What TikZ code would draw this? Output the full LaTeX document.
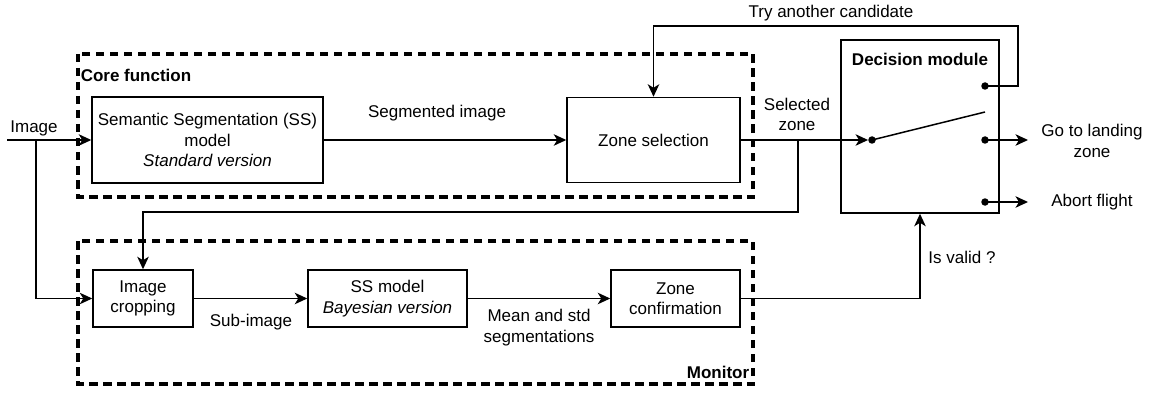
\documentclass[tikz,border=0pt]{standalone}
\usepackage{fontspec}
\setmainfont{Liberation Sans}
\usetikzlibrary{arrows.meta}
\begin{document}
\begin{tikzpicture}[x=1pt,y=-1pt,
  every node/.style={font=\fontsize{17}{20.5}\selectfont, inner sep=0pt},
  box/.style={draw, line width=1.5pt, fill=white, align=center},
  lbl/.style={align=center},
  ttl/.style={font=\fontsize{17}{20.5}\selectfont\bfseries},
  dsh/.style={line width=3.2pt, dash pattern=on 8.5pt off 5.5pt},
  arr/.style={line width=1.5pt, -{Stealth[length=12.5pt,width=11.5pt,inset=3.5pt]}},
  ln/.style={line width=1.5pt},
  dot/.style={circle, fill=black, minimum size=7.5pt, inner sep=0pt}
]
\useasboundingbox[fill=white] (0,0) rectangle (1151,393);

% containers
\draw[dsh] (78,54) rectangle (753,197);
\draw[dsh] (78,241) rectangle (753,384);
\node[ttl] (coreT) at (136,75) {Core function};
\node[ttl] (monT) at (718,372) {Monitor};

% blocks
\node[box, minimum width=231pt, minimum height=86pt] (ss) at (207.5,140) {Semantic Segmentation (SS)\\model\\\textit{Standard version}};
\node[box, minimum width=173pt, minimum height=85pt] (zs) at (653.5,140) {Zone selection};
\node[box, minimum width=158pt, minimum height=173pt] (dm) at (920,126.5) {};
\node[ttl] (dmT) at (920,59) {Decision module};
\node[box, minimum width=100pt, minimum height=57pt] (ic) at (143,298.5) {Image\\cropping};
\node[box, minimum width=159pt, minimum height=57pt] (bay) at (387.5,298.5) {SS model\\\textit{Bayesian version}};
\node[box, minimum width=129pt, minimum height=57pt] (zc) at (675.5,298.5) {Zone\\confirmation};

% dots in decision module
\node[dot] (din) at (872,140) {};
\node[dot] (dtop) at (985,86) {};
\node[dot] (dgo) at (985,140) {};
\node[dot] (dab) at (985,202) {};
\coordinate (dsw) at (985,112);

% coordinates
\coordinate (in) at (7,140);
\coordinate (br) at (36,140);
\coordinate (br2) at (798,140);
\coordinate (sel) at (798,212);
\coordinate (tr) at (1018,26);
\coordinate (goE) at (1028,140);
\coordinate (abE) at (1028,202);

% connectors
\draw[arr] (in) -- (ss.west);
\draw[arr] (br) |- (ic.west);
\draw[arr] (ss.east) -- (zs.west);
\draw[arr] (zs.east) -- (din);
\draw[arr] (br2) -- (sel) -| (ic.north);
\draw[ln] (din.center) -- (dsw);
\draw[arr] (dtop.center) -| (tr) -| (zs.north);
\draw[arr] (dgo.center) -- (goE);
\draw[arr] (dab.center) -- (abE);
\draw[arr] (ic.east) -- (bay.west);
\draw[arr] (bay.east) -- (zc.west);
\draw[arr] (zc.east) -| (dm.south);

% labels
\node (imgL) at (34,128) {Image};
\node (segL) at (437,113) {Segmented image};
\node[lbl] (selL) at (797,114.5) {Selected\\zone};
\node (tryL) at (831,13) {Try another candidate};
\node (valL) at (962,257) {Is valid ?};
\node (subL) at (251,322) {Sub-image};
\node[lbl] (msL) at (539,327.5) {Mean and std\\segmentations};
\node[lbl] (goL) at (1092,141) {Go to landing\\zone};
\node (abL) at (1092,202) {Abort flight};
\end{tikzpicture}
\end{document}
